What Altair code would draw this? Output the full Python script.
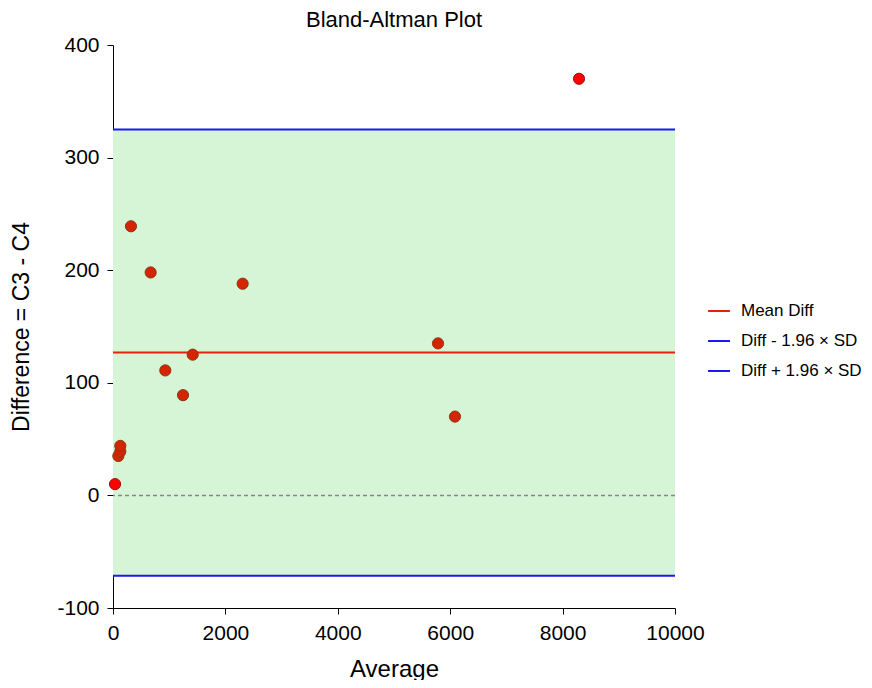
import altair as alt
import pandas as pd

# ---- data ----
avg = [36, 95, 130, 130, 320, 670, 931, 1246, 1418, 2307, 5783, 6085, 8292]
diff = [10, 35, 39, 44, 239, 198, 111, 89, 125, 188, 135, 70, 370]
kind = ["flag", "normal", "normal", "normal", "normal", "normal", "normal",
        "normal", "normal", "normal", "normal", "normal", "flag"]

series = ["Mean Diff", "Diff - 1.96 × SD", "Diff + 1.96 × SD"]
levels = [126.8, -71.4, 325.0]

x_ticks = [0, 2000, 4000, 6000, 8000, 10000]
y_ticks = [-100, 0, 100, 200, 300, 400]
x_domain = [0, 10000]
y_domain = [-100, 400]

FONT = "Liberation Sans"
LABEL_EXPR = "datum.value < 0 ? '-' + abs(datum.value) : '' + datum.value"

pts = pd.DataFrame({"Average": avg, "Difference": diff, "kind": kind})
lines = pd.DataFrame({"series": series, "value": levels})
band = pd.DataFrame({"lo": [levels[1]], "hi": [levels[2]]})
zero = pd.DataFrame({"z": [0]})

xs = alt.Scale(domain=x_domain, nice=False, zero=False)
ys = alt.Scale(domain=y_domain, nice=False, zero=False)
y_axis = alt.Axis(values=y_ticks, labelExpr=LABEL_EXPR, labelFlush=False,
                  title="Difference = C3 - C4", titlePadding=23, labelPadding=8,
                  titleFontSize=23)
x_axis = alt.Axis(values=x_ticks, labelExpr=LABEL_EXPR, labelFlush=False,
                  title="Average", titlePadding=14, labelPadding=8)

band_layer = alt.Chart(band).mark_rect(color="#D5F5D6").encode(
    y=alt.Y("lo:Q", scale=ys, axis=y_axis), y2="hi:Q")

zero_layer = alt.Chart(zero).mark_rule(
    color="#8C8098", strokeDash=[4, 3], strokeWidth=1.5).encode(
    y=alt.Y("z:Q", scale=ys, axis=y_axis))

line_layer = alt.Chart(lines).mark_rule(strokeWidth=2).encode(
    y=alt.Y("value:Q", scale=ys, axis=y_axis),
    color=alt.Color("series:N",
                    scale=alt.Scale(domain=series,
                                    range=["#E8200E", "#1A1AF0", "#1A1AF0"]),
                    sort=series,
                    legend=alt.Legend(title=None, orient="none",
                                      legendX=594, legendY=254,
                                      symbolType="stroke", symbolSize=480,
                                      symbolStrokeWidth=2,
                                      labelFontSize=17, labelFont=FONT,
                                      labelColor="black",
                                      rowPadding=10, labelOffset=10)))

pt_layer = alt.Chart(pts).mark_point(filled=True, size=125, opacity=1,
                                     strokeWidth=1).encode(
    x=alt.X("Average:Q", scale=xs, axis=x_axis),
    y=alt.Y("Difference:Q", scale=ys, axis=y_axis),
    fill=alt.Fill("kind:N", scale=alt.Scale(domain=["normal", "flag"],
                                            range=["#D42400", "#FF0000"]),
                  legend=None),
    stroke=alt.Stroke("kind:N", scale=alt.Scale(domain=["normal", "flag"],
                                                range=["#8A3A14", "#A01010"]),
                      legend=None),
)

chart = alt.layer(band_layer, zero_layer, line_layer, pt_layer).properties(
    width=562, height=563,
    title=alt.TitleParams("Bland-Altman Plot", fontSize=22, font=FONT,
                          fontWeight="normal", color="black", offset=2,
                          anchor="middle"),
    autosize=alt.AutoSizeParams(type="none"),
    padding={"left": 105, "top": 37, "right": 189, "bottom": 72},
).resolve_scale(color="independent").configure_view(stroke=None).configure_axis(
    grid=False, domainColor="black", tickColor="black", tickSize=6,
    domainWidth=1, tickWidth=1,
    labelFont=FONT, titleFont=FONT, labelFontSize=21, titleFontSize=24,
    labelColor="black", titleColor="black", titleFontWeight="normal",
)

chart.save("out.html", embed_options={"renderer": "svg", "actions": False})
